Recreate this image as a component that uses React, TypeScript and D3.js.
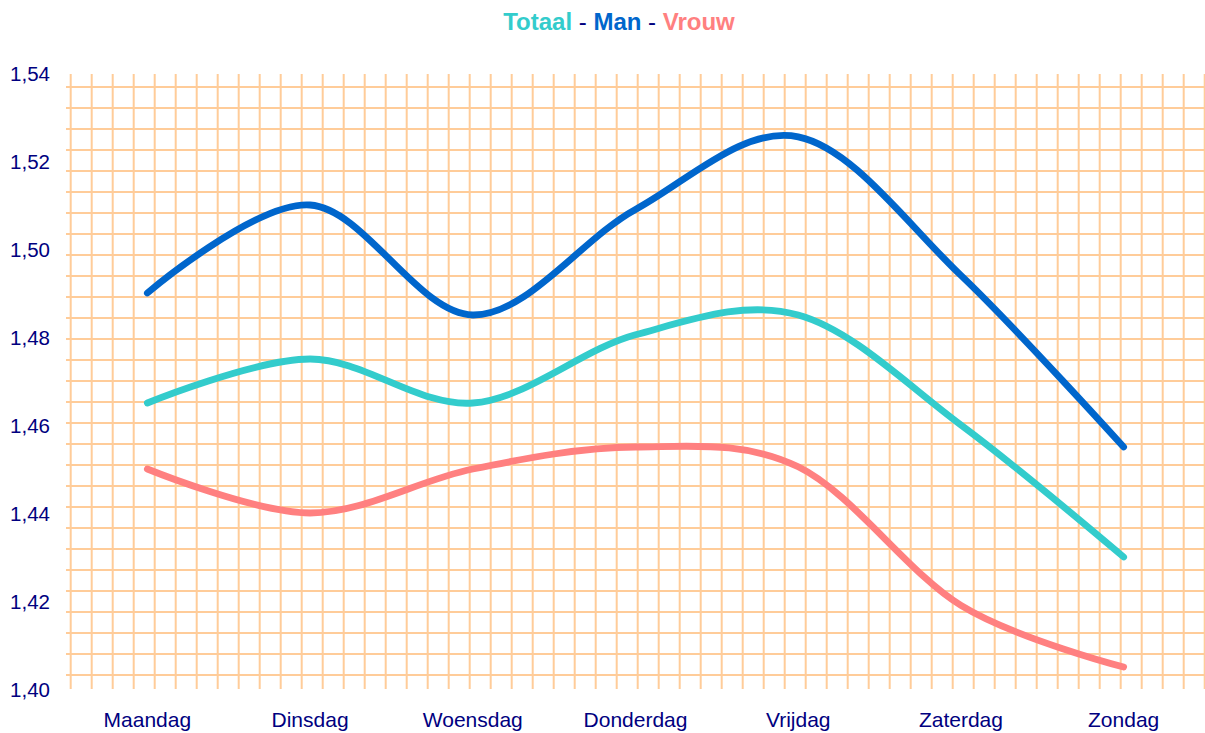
import React from "react";
import * as d3 from "d3";

const days = ["Maandag", "Dinsdag", "Woensdag", "Donderdag", "Vrijdag", "Zaterdag", "Zondag"];
const totaal = [1.465, 1.475, 1.465, 1.4805, 1.485, 1.46, 1.43];
const man = [1.49, 1.51, 1.485, 1.509, 1.5255, 1.494, 1.455];
const vrouw = [1.45, 1.44, 1.45, 1.455, 1.4505, 1.419, 1.405];
const yTicks = [1.4, 1.42, 1.44, 1.46, 1.48, 1.5, 1.52, 1.54];

const W = 1205;
const H = 733;
const plotLeft = 66;
const plotRight = 1205;
const plotTop = 74;
const plotBottom = 689;
const gridStep = 21;

const navy = "#000080";
const grid = "#FFCC99";
const series = [
  { name: "Totaal", values: totaal, color: "#33CCCC" },
  { name: "Man", values: man, color: "#0066CC" },
  { name: "Vrouw", values: vrouw, color: "#FF8080" },
];

export default function App() {
  const x = d3.scalePoint<string>().domain(days).range([plotLeft, plotRight]).padding(0.5);
  const y = d3.scaleLinear().domain([1.4, 1.54]).range([689, 73]);
  const line = d3
    .line<number>()
    .x((_, i) => x(days[i]) as number)
    .y((d) => y(d))
    .curve(d3.curveCardinal.tension(0));

  const vLines = d3.range(plotLeft + 4.7, plotRight + 0.1, gridStep);
  const hLines = d3.range(plotTop + 13, plotBottom - 10, gridStep);
  const fmt = (v: number) => v.toFixed(2).replace(".", ",");

  return (
    <svg
      width={W}
      height={H}
      style={{ position: "absolute", left: 0, top: 0, background: "#fff" }}
      fontFamily="'Liberation Sans', Arial, sans-serif"
    >
      <g stroke={grid} strokeWidth={2}>
        {vLines.map((vx, i) => (
          <line key={"v" + i} x1={vx} x2={vx} y1={plotTop} y2={plotBottom} />
        ))}
        {hLines.map((hy, i) => (
          <line key={"h" + i} x1={plotLeft} x2={plotRight} y1={hy} y2={hy} />
        ))}
      </g>
      {series.map((s) => (
        <path
          key={s.name}
          d={line(s.values) || ""}
          fill="none"
          stroke={s.color}
          strokeWidth={6.8}
          strokeLinecap="round"
          strokeLinejoin="round"
        />
      ))}
      <g fill={navy} fontSize={20.5} textAnchor="end">
        {yTicks.map((t) => (
          <text key={t} x={50} y={y(t) + 7.5}>
            {fmt(t)}
          </text>
        ))}
      </g>
      <g fill={navy} fontSize={21} textAnchor="middle">
        {days.map((d) => (
          <text key={d} x={x(d)} y={727}>
            {d}
          </text>
        ))}
      </g>
      <text x={619} y={30} textAnchor="middle" fontWeight="bold" fontSize={24}>
        <tspan fill="#33CCCC">Totaal</tspan>
        <tspan fill={navy} fontWeight="normal"> - </tspan>
        <tspan fill="#0066CC">Man</tspan>
        <tspan fill={navy} fontWeight="normal"> - </tspan>
        <tspan fill="#FF8080">Vrouw</tspan>
      </text>
    </svg>
  );
}
